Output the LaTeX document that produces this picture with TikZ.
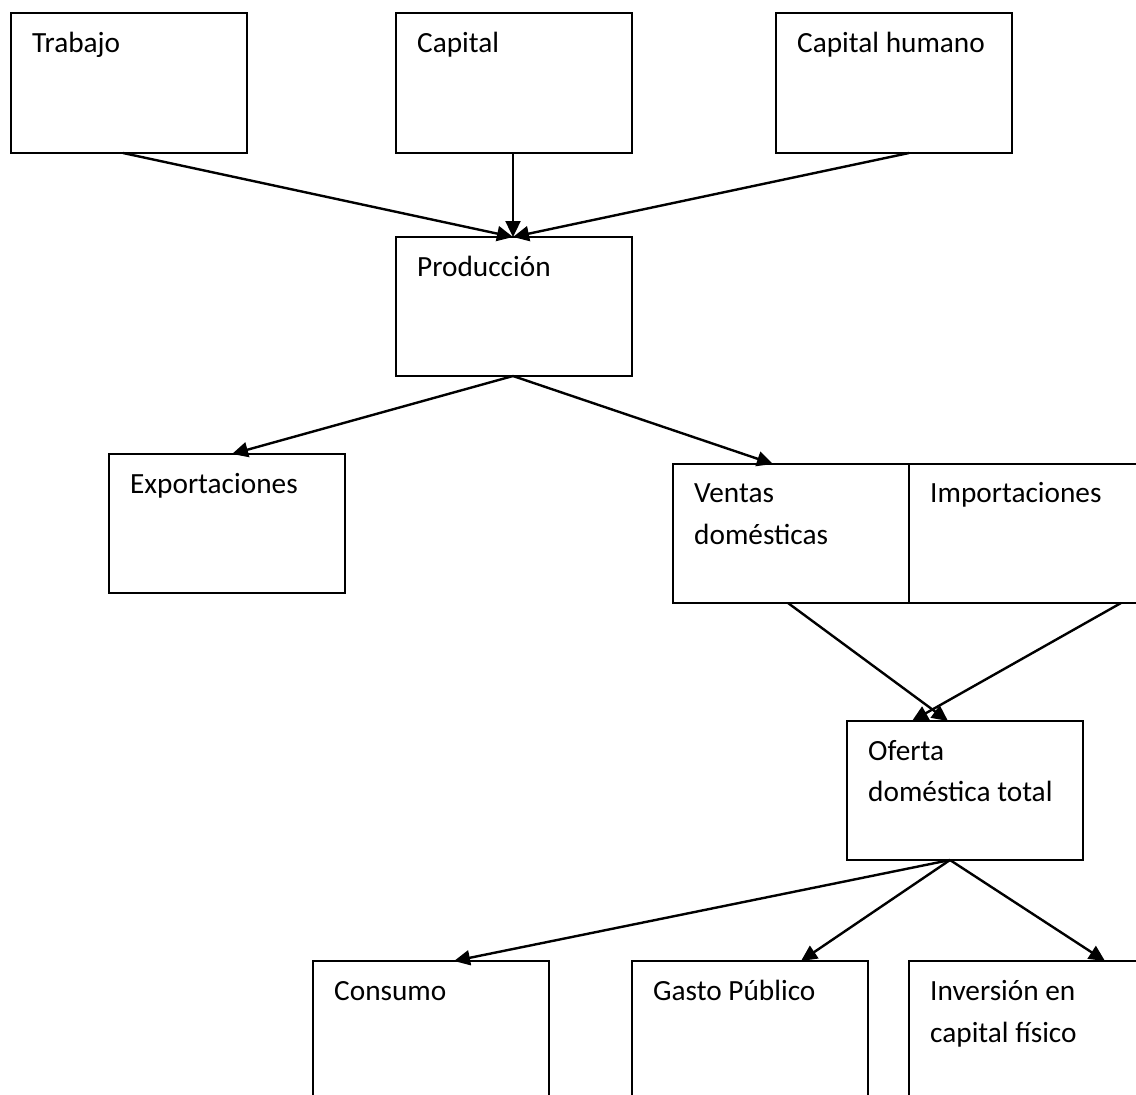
\documentclass[tikz,border=0pt]{standalone}
\usepackage{fontspec}
\setmainfont{Carlito}
\usetikzlibrary{arrows.meta,calc}
\begin{document}
\begin{tikzpicture}[x=1pt,y=-1pt,
 box/.style={draw,line width=2pt,anchor=north west,minimum width=236pt,minimum height=140pt,inner sep=0pt,outer sep=0pt},
 lbl/.style={anchor=base west,inner sep=0pt,font=\fontsize{29.3}{35}\selectfont},
 arr/.style={line width=2.4pt,-{Triangle[length=16pt,width=15pt]}}]
\useasboundingbox (0,0) rectangle (1136,1095);
\clip (0,0) rectangle (1136,1095);
\fill[white] (0,0) rectangle (1136,1095);
% boxes
\node[box] (trab) at (11,13) {};
\node[box] (cap) at (396,13) {};
\node[box] (caph) at (776,13) {};
\node[box,minimum height=139pt] (prod) at (396,237) {};
\node[box,minimum height=139pt] (exp) at (109,454) {};
\node[box,minimum height=139pt] (vent) at (673,464) {};
\node[box,minimum height=139pt] (imp) at (909,464) {};
\node[box,minimum height=139pt] (ofer) at (847,721) {};
\node[box] (cons) at (313,961) {};
\node[box] (gast) at (632,961) {};
\node[box] (inv) at (909,961) {};
% labels
\node[lbl] (t1) at ($(trab.north west)+(21,39)$) {Trabajo};
\node[lbl] (t2) at ($(cap.north west)+(21,39)$) {Capital};
\node[lbl] (t3) at ($(caph.north west)+(21,39)$) {Capital humano};
\node[lbl] (t4) at ($(prod.north west)+(21,39)$) {Producción};
\node[lbl] (t5) at ($(exp.north west)+(21,39)$) {Exportaciones};
\node[lbl] (t6a) at ($(vent.north west)+(21,38)$) {Ventas};
\node[lbl] (t6b) at ($(vent.north west)+(21,80)$) {domésticas};
\node[lbl] (t7) at ($(imp.north west)+(21,38)$) {Importaciones};
\node[lbl] (t8a) at ($(ofer.north west)+(21,39)$) {Oferta};
\node[lbl] (t8b) at ($(ofer.north west)+(21,80)$) {doméstica total};
\node[lbl] (t9) at ($(cons.north west)+(21,39)$) {Consumo};
\node[lbl] (t10) at ($(gast.north west)+(21,39)$) {Gasto Público};
\node[lbl] (t11a) at ($(inv.north west)+(21,39)$) {Inversión en};
\node[lbl] (t11b) at ($(inv.north west)+(21,81)$) {capital físico};
% arrows
\draw[arr] ($(trab.south west)+(112,0)$) -- ($(prod.north west)+(117,0)$);
\draw[arr] ($(cap.south west)+(117,0)$) -- ($(prod.north west)+(117,0)$);
\draw[arr] ($(caph.south west)+(133,0)$) -- ($(prod.north west)+(117,0)$);
\draw[arr] ($(prod.south west)+(117,0)$) -- ($(exp.north west)+(123,0)$);
\draw[arr] ($(prod.south west)+(117,0)$) -- ($(vent.north west)+(100,0)$);
\draw[arr] ($(vent.south west)+(115,0)$) -- ($(ofer.north west)+(101,0)$);
\draw[arr] ($(imp.south west)+(212,0)$) -- ($(ofer.north west)+(65,0)$);
\draw[arr] ($(ofer.south west)+(103,0)$) -- ($(cons.north west)+(141,0)$);
\draw[arr] ($(ofer.south west)+(103,0)$) -- ($(gast.north west)+(169,0)$);
\draw[arr] ($(ofer.south west)+(103,0)$) -- ($(inv.north west)+(196,0)$);
\end{tikzpicture}
\end{document}
